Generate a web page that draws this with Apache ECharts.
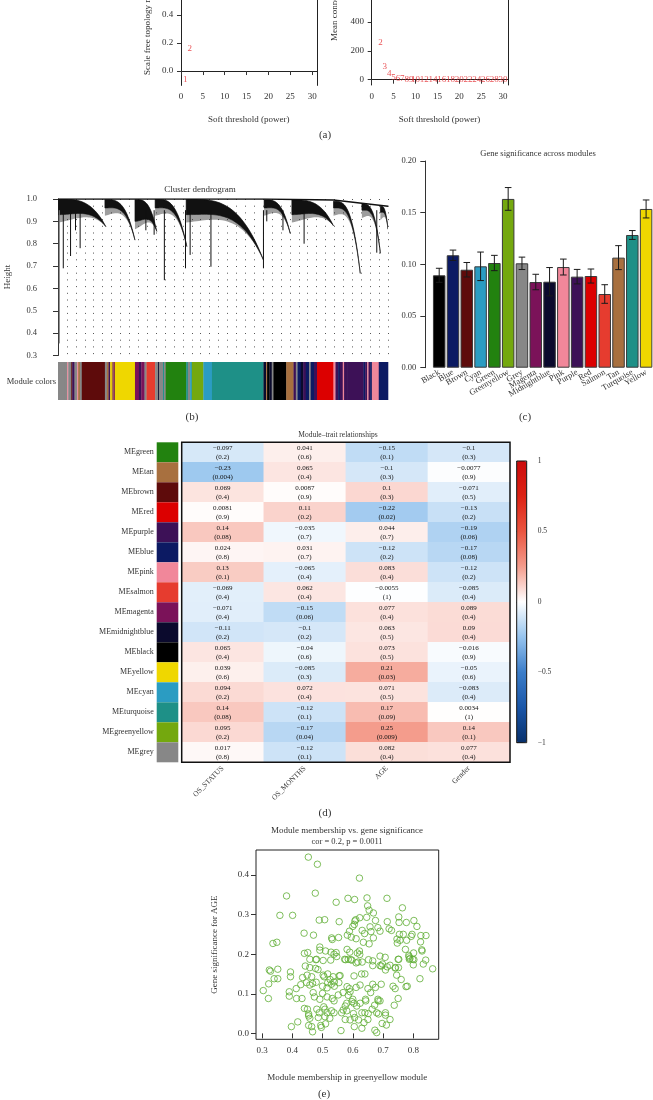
<!DOCTYPE html>
<html>
<head>
<meta charset="utf-8">
<script src="https://cdn.jsdelivr.net/npm/echarts@6/dist/echarts.min.js"></script>
<style>
  html, body { margin: 0; padding: 0; background: #fff; }
  #chart { width: 653px; height: 1100px; }
</style>
</head>
<body>
<div id="chart"></div>
<script>
// (a) soft threshold scan
const powers = [1, 2, 3, 4, 5, 6, 7, 8, 9, 10, 12, 14, 16, 18, 20, 22, 24, 26, 28, 30];
const scaleFreeFit = [-0.064, 0.157, 0.62, 0.74, 0.8, 0.83, 0.85, 0.86, 0.87, 0.87, 0.88, 0.88, 0.88, 0.89, 0.89, 0.89, 0.9, 0.9, 0.9, 0.9];
const meanConnectivity = [945, 257, 90, 40, 17, 8, 5, 3, 2, 1.5, 1, 1, 1, 1, 1, 1, 1, 1, 1, 1];
const powerTicks = [0, 5, 10, 15, 20, 25, 30];

// (b) dendrogram, leaf positions 0..999
const clusterStart = [1, 142, 233, 294, 388, 624, 708, 834, 920, 976];
const clusterEnd = [145, 233, 299, 390, 622, 703, 834, 915, 976, 999];
const clusterTop = [1.0, 0.998, 0.998, 1.0, 1.0, 0.997, 0.996, 0.99, 0.978, 0.968];
const clusterDense = [0.93, 0.96, 0.9, 0.96, 0.93, 0.96, 0.93, 0.96, 0.95, 0.94];
const clusterTip = [0.876, 0.816, 0.855, 0.787, 0.727, 0.846, 0.88, 0.667, 0.757, 0.865];
const spikeX = [4, 16, 38, 53, 67, 266, 291, 322, 386, 400, 463, 622, 632, 681, 745, 965];
const spikeH = [0.354, 0.69, 0.745, 0.86, 0.78, 0.86, 0.84, 0.637, 0.69, 0.75, 0.697, 0.69, 0.9, 0.86, 0.8, 0.76];
const topLineX = [0, 622, 624, 834, 999];
const topLineH = [1.0, 1.0, 0.997, 0.995, 0.968];
const stripEdges = [0, 21, 28, 31, 40, 43, 50, 58, 61, 66, 72, 142, 148, 153, 158, 163, 168, 172, 178, 233, 245, 252, 262, 268,
  294, 303, 306, 318, 321, 326, 388, 393, 400, 405, 440, 466, 622, 630, 633, 640, 647, 652, 691, 713, 720, 725, 735, 742,
  750, 760, 765, 775, 784, 834, 840, 848, 853, 862, 866, 875, 925, 930, 936, 940, 945, 950, 971, 999];
const stripModules = ['grey', 'grey', 'pink', 'grey', 'brown', 'purple', 'grey', 'pink', 'tan', 'grey', 'brown', 'grey', 'tan',
  'purple', 'yellow', 'tan', 'magenta', 'yellow', 'yellow', 'magenta', 'purple', 'magenta', 'grey', 'salmon',
  'grey', 'midnightblue', 'grey', 'turquoise', 'grey', 'green', 'turquoise', 'grey', 'cyan', 'greenyellow', 'cyan', 'turquoise',
  'midnightblue', 'tan', 'black', 'midnightblue', 'grey', 'black', 'tan', 'purple', 'grey', 'blue', 'midnightblue',
  'purple', 'blue', 'grey', 'blue', 'purple', 'red', 'pink', 'purple', 'blue', 'purple', 'pink', 'purple', 'purple',
  'blue', 'purple', 'pink', 'purple', 'blue', 'pink', 'blue'];

// (c) gene significance per module
const modules = ['Black', 'Blue', 'Brown', 'Cyan', 'Green', 'Greenyellow', 'Grey', 'Magenta', 'Midnightblue', 'Pink', 'Purple', 'Red', 'Salmon', 'Tan', 'Turquoise', 'Yellow'];
const gsMean = [0.0894, 0.1088, 0.0948, 0.0981, 0.1013, 0.1633, 0.101, 0.0829, 0.0832, 0.0974, 0.0881, 0.0887, 0.0713, 0.1065, 0.1284, 0.1536];
const gsErr = [0.0068, 0.005, 0.007, 0.0138, 0.0074, 0.011, 0.006, 0.0075, 0.0137, 0.0077, 0.007, 0.0068, 0.009, 0.0116, 0.0043, 0.0087];

// (d) module-trait relationships
const traits = ['OS_STATUS', 'OS_MONTHS', 'AGE', 'Gender'];
const meNames = ['MEgreen', 'MEtan', 'MEbrown', 'MEred', 'MEpurple', 'MEblue', 'MEpink', 'MEsalmon', 'MEmagenta', 'MEmidnightblue', 'MEblack', 'MEyellow', 'MEcyan', 'MEturquoise', 'MEgreenyellow', 'MEgrey'];
const corStatus = [-0.097, -0.23, 0.069, 0.0081, 0.14, 0.024, 0.13, -0.069, -0.071, -0.11, 0.065, 0.039, 0.094, 0.14, 0.095, 0.017];
const pStatus = [0.2, 0.004, 0.4, 0.9, 0.08, 0.8, 0.1, 0.4, 0.4, 0.2, 0.4, 0.6, 0.2, 0.08, 0.2, 0.8];
const corMonths = [0.041, 0.065, 0.0087, 0.11, -0.035, 0.031, -0.065, 0.062, -0.15, -0.1, -0.04, -0.085, 0.072, -0.12, -0.17, -0.12];
const pMonths = [0.6, 0.4, 0.9, 0.2, 0.7, 0.7, 0.4, 0.4, 0.06, 0.2, 0.6, 0.3, 0.4, 0.1, 0.04, 0.1];
const corAge = [-0.15, -0.1, 0.1, -0.22, 0.044, -0.12, 0.083, -0.0055, 0.077, 0.063, 0.073, 0.21, 0.071, 0.17, 0.25, 0.082];
const pAge = [0.1, 0.3, 0.3, 0.02, 0.7, 0.2, 0.4, 1, 0.4, 0.5, 0.5, 0.03, 0.5, 0.09, 0.009, 0.4];
const corGender = [-0.1, -0.0077, -0.071, -0.13, -0.19, -0.17, -0.12, -0.085, 0.089, 0.09, -0.016, -0.05, -0.083, 0.0034, 0.14, 0.077];
const pGender = [0.3, 0.9, 0.5, 0.2, 0.06, 0.08, 0.2, 0.4, 0.4, 0.4, 0.9, 0.6, 0.4, 1, 0.1, 0.4];
const keyTicks = [-1, -0.5, 0, 0.5, 1];

// (e) module membership vs gene significance (greenyellow)
const mmX = [0.453, 0.483, 0.622, 0.381, 0.476, 0.545, 0.584, 0.606, 0.647, 0.713, 0.649, 0.654, 0.668, 0.764, 0.359, 0.401,
  0.623, 0.646, 0.489, 0.507, 0.555, 0.607, 0.61, 0.675, 0.714, 0.752, 0.753, 0.777, 0.802, 0.812, 0.605, 0.6, 0.589, 0.631,
  0.639, 0.657, 0.66, 0.683, 0.69, 0.72, 0.728, 0.439, 0.47, 0.582, 0.595, 0.611, 0.668, 0.635, 0.53, 0.532, 0.553, 0.746,
  0.754, 0.767, 0.796, 0.825, 0.842, 0.756, 0.778, 0.793, 0.747, 0.824, 0.336, 0.349, 0.654, 0.44, 0.451, 0.491, 0.491, 0.51,
  0.528, 0.538, 0.545, 0.547, 0.581, 0.59, 0.615, 0.622, 0.623, 0.69, 0.707, 0.774, 0.801, 0.828, 0.829, 0.785, 0.789, 0.798,
  0.752, 0.478, 0.502, 0.576, 0.593, 0.652,
  0.458, 0.48, 0.527, 0.573, 0.585, 0.597, 0.611, 0.617, 0.631, 0.666, 0.666, 0.69, 0.698, 0.714, 0.708, 0.723, 0.75, 0.741,
  0.751, 0.786, 0.787, 0.802, 0.833, 0.324, 0.328, 0.352, 0.34, 0.352, 0.322, 0.394, 0.394, 0.443, 0.458, 0.477, 0.485, 0.449,
  0.464, 0.434, 0.447, 0.467, 0.428, 0.413, 0.458, 0.479, 0.502, 0.517, 0.505, 0.525, 0.535, 0.539, 0.555, 0.558, 0.517, 0.5,
  0.515, 0.529, 0.539, 0.554, 0.604, 0.629, 0.64, 0.624, 0.611, 0.589, 0.581, 0.65, 0.666, 0.675, 0.694, 0.694, 0.74, 0.745,
  0.76, 0.733, 0.74, 0.776, 0.78, 0.822, 0.864, 0.841, 0.8, 0.304, 0.321, 0.39, 0.39, 0.414, 0.432, 0.469, 0.473, 0.491, 0.5,
  0.515, 0.532, 0.538, 0.552, 0.568, 0.585, 0.591, 0.6, 0.597, 0.58, 0.575, 0.568, 0.563, 0.58, 0.604, 0.602, 0.613, 0.624,
  0.642, 0.643, 0.659, 0.683, 0.684, 0.685, 0.679, 0.708, 0.651, 0.606, 0.605, 0.575, 0.53, 0.538, 0.515, 0.504, 0.508, 0.481,
  0.489, 0.486, 0.508, 0.524, 0.45, 0.454, 0.454, 0.458, 0.44, 0.494, 0.51, 0.496, 0.454, 0.464, 0.467, 0.418, 0.397, 0.561,
  0.637, 0.63, 0.673, 0.679, 0.697, 0.711, 0.723, 0.708, 0.737, 0.64, 0.63, 0.65, 0.591, 0.619, 0.664, 0.672, 0.69, 0.75];
const gsY = [0.445, 0.427, 0.392, 0.347, 0.354, 0.331, 0.341, 0.338, 0.342, 0.341, 0.322, 0.311, 0.304, 0.317, 0.298, 0.298,
  0.292, 0.293, 0.286, 0.287, 0.282, 0.284, 0.287, 0.285, 0.282, 0.294, 0.28, 0.28, 0.285, 0.27, 0.275, 0.27, 0.258, 0.26,
  0.252, 0.269, 0.257, 0.267, 0.258, 0.264, 0.26, 0.253, 0.248, 0.248, 0.243, 0.239, 0.241, 0.23, 0.241, 0.237, 0.242, 0.238,
  0.25, 0.25, 0.25, 0.247, 0.247, 0.235, 0.235, 0.245, 0.228, 0.231, 0.227, 0.23, 0.226, 0.202, 0.204, 0.218, 0.21, 0.208,
  0.205, 0.2, 0.204, 0.194, 0.212, 0.205, 0.203, 0.208, 0.199, 0.195, 0.192, 0.212, 0.203, 0.211, 0.208, 0.197, 0.189, 0.187,
  0.187, 0.186, 0.184, 0.186, 0.186, 0.186,
  0.187, 0.187, 0.185, 0.187, 0.187, 0.185, 0.178, 0.18, 0.18, 0.183, 0.171, 0.171, 0.175, 0.168, 0.16, 0.172, 0.187, 0.166,
  0.166, 0.193, 0.187, 0.186, 0.175, 0.16, 0.157, 0.162, 0.138, 0.138, 0.125, 0.155, 0.143, 0.17, 0.166, 0.164, 0.161, 0.147,
  0.143, 0.141, 0.128, 0.126, 0.123, 0.113, 0.122, 0.129, 0.147, 0.15, 0.143, 0.136, 0.143, 0.13, 0.145, 0.146, 0.128, 0.119,
  0.115, 0.124, 0.119, 0.128, 0.145, 0.15, 0.15, 0.122, 0.116, 0.113, 0.118, 0.113, 0.124, 0.116, 0.124, 0.17, 0.165, 0.147,
  0.136, 0.119, 0.113, 0.118, 0.119, 0.138, 0.163, 0.185, 0.173, 0.108, 0.088, 0.105, 0.094, 0.088, 0.088, 0.103, 0.092, 0.086, 0.101,
  0.092, 0.088, 0.082, 0.097, 0.103, 0.096, 0.105, 0.086, 0.08, 0.076, 0.069, 0.059, 0.052, 0.057, 0.076, 0.05, 0.069, 0.076,
  0.086, 0.082, 0.103, 0.086, 0.082, 0.049, 0.052, 0.046, 0.05, 0.04, 0.017, 0.035, 0.057, 0.052, 0.052, 0.067, 0.061, 0.061,
  0.052, 0.04, 0.042, 0.038, 0.061, 0.049, 0.044, 0.038, 0.063, 0.02, 0.024, 0.015, 0.02, 0.017, 0.004, 0.029, 0.017, 0.007,
  0.027, 0.013, 0.008, 0.002, 0.025, 0.021, 0.035, 0.052, 0.071, 0.052, 0.052, 0.035, 0.034, 0.034, 0.061, 0.071, 0.082, 0.088];

// colours of the WGCNA modules
const moduleColor = {
  black: '#000000', blue: '#0c1a63', brown: '#5e0b0b', cyan: '#2b9cc2', green: '#22820f', greenyellow: '#74a80e',
  grey: '#878787', magenta: '#7b1259', midnightblue: '#0b0a2d', pink: '#f1879a', purple: '#3d1157', red: '#dc0000',
  salmon: '#e63c2f', tan: '#a8703f', turquoise: '#1e9087', yellow: '#efd700'
};
const serif = 'Liberation Serif';
const ink = '#333';
const fmt = v => String(v).replace('-', '\u2212');

function tickAxis(gridIndex, min, max, ticks, labelFmt, extra) {
  return Object.assign({
    gridIndex: gridIndex, type: 'value', min: min, max: max,
    axisLine: { show: false },
    axisTick: { show: true, customValues: ticks, length: 4, lineStyle: { color: ink } },
    axisLabel: { customValues: ticks, formatter: labelFmt, color: ink, fontSize: 9, fontFamily: serif, margin: 7 },
    splitLine: { show: false },
    nameLocation: 'middle',
    nameTextStyle: { color: ink, fontSize: 9, fontFamily: serif }
  }, extra || {});
}
// plain frame line for the open-topped plots of panel (a)
function frameAxis(gridIndex, min, max, position) {
  return {
    gridIndex: gridIndex, type: 'value', min: min, max: max, position: position,
    axisLine: { show: true, lineStyle: { color: '#222', width: 1 } },
    axisTick: { show: false }, axisLabel: { show: false }, splitLine: { show: false }
  };
}
const box = { show: true, borderColor: '#222', borderWidth: 1, backgroundColor: 'transparent' };
const solidLine = { show: true, lineStyle: { color: '#222', width: 1 } };

const chart = echarts.init(document.getElementById('chart'));

const option = {
  animation: false,
  textStyle: { fontFamily: serif },
  grid: [
    { left: 180.3, top: 0, width: 136.9, height: 85.4 },
    { left: 371, top: 0, width: 137.2, height: 85 },
    { left: 58, top: 199, width: 330, height: 156.5 },
    { left: 58, top: 362, width: 330, height: 38 },
    { left: 432.3, top: 161, width: 221.9, height: 206.7 },
    { left: 156.7, top: 442.3, width: 21.6, height: 320 },
    { left: 181.7, top: 442.3, width: 328.3, height: 320, show: true, borderColor: '#111', borderWidth: 1.5, backgroundColor: 'transparent', z: 5 },
    { left: 516.7, top: 461, width: 10, height: 281.7, show: true, borderColor: '#111', borderWidth: 1, backgroundColor: 'transparent', z: 5 },
    Object.assign({ left: 256, top: 850, width: 182.7, height: 189.3 }, box)
  ],
  xAxis: [
    tickAxis(0, -0.16, 31.16, powerTicks, null, { name: 'Soft threshold (power)', nameGap: 30, axisLine: solidLine }),
    tickAxis(1, -0.16, 31.16, powerTicks, null, { name: 'Soft threshold (power)', nameGap: 30, axisLine: solidLine }),
    {
      gridIndex: 2, type: 'value', min: 0, max: 999, interval: 27,
      axisLine: { show: false }, axisTick: { show: false }, axisLabel: { show: false },
      splitLine: { show: true, lineStyle: { type: [1, 5.7], color: '#555', width: 1 } }
    },
    { gridIndex: 3, type: 'value', min: 0, max: 999, show: false },
    {
      gridIndex: 4, type: 'category', data: modules,
      axisLine: { show: false }, axisTick: { show: false },
      axisLabel: { interval: 0, rotate: 30, fontSize: 8.5, color: ink, fontFamily: serif, margin: 4 }
    },
    { gridIndex: 5, type: 'category', data: ['c'], show: false },
    {
      gridIndex: 6, type: 'category', data: traits,
      axisLine: { show: false }, axisTick: { show: false },
      axisLabel: { interval: 0, rotate: 45, fontSize: 7.5, color: ink, fontFamily: serif, margin: 5 }
    },
    { gridIndex: 7, type: 'value', min: 0, max: 1, show: false },
    tickAxis(8, 0.28, 0.884, [0.3, 0.4, 0.5, 0.6, 0.7, 0.8], v => v.toFixed(1),
      { name: 'Module membership in greenyellow module', nameGap: 34, axisTick: { show: true, customValues: [0.3, 0.4, 0.5, 0.6, 0.7, 0.8], length: 5, lineStyle: { color: ink } } })
  ],
  yAxis: [
    tickAxis(0, -0.1026, 0.5074, [0, 0.2, 0.4], v => v.toFixed(1), { axisLine: solidLine }),
    tickAxis(1, -36.8, 553.5, [0, 200, 400], null, { axisLine: solidLine }),
    {
      gridIndex: 2, type: 'value', min: 0.3, max: 1.0, offset: 13,
      axisLine: { show: true, lineStyle: { color: ink, width: 1 } },
      axisTick: { show: true, customValues: [0.3, 0.4, 0.5, 0.6, 0.7, 0.8, 0.9, 1.0], length: 5, lineStyle: { color: ink } },
      axisLabel: { customValues: [0.3, 0.4, 0.5, 0.6, 0.7, 0.8, 0.9, 1.0], formatter: v => v.toFixed(1), color: ink, fontSize: 8.5, fontFamily: serif, margin: 8 },
      splitLine: { show: false }
    },
    { gridIndex: 3, type: 'value', min: 0, max: 1, show: false },
    {
      gridIndex: 4, type: 'value', min: 0, max: 0.2, interval: 0.05, offset: 7,
      axisLine: { show: true, lineStyle: { color: ink, width: 1 } },
      axisTick: { show: true, length: 5, lineStyle: { color: ink } },
      axisLabel: { formatter: v => v.toFixed(2), color: ink, fontSize: 8.5, fontFamily: serif, margin: 9 },
      splitLine: { show: false }
    },
    {
      gridIndex: 5, type: 'category', data: meNames, inverse: true,
      axisLine: { show: false }, axisTick: { show: false },
      axisLabel: { interval: 0, fontSize: 8, color: ink, fontFamily: serif, margin: 3 }
    },
    { gridIndex: 6, type: 'category', data: meNames, inverse: true, show: false },
    tickAxis(7, -1, 1, keyTicks, v => fmt(v), {
      position: 'right',
      axisTick: { show: true, customValues: keyTicks, length: 6, lineStyle: { color: ink } },
      axisLabel: { customValues: keyTicks, formatter: v => fmt(v), color: ink, fontSize: 7.5, fontFamily: serif, margin: 11 }
    }),
    tickAxis(8, -0.015, 0.463, [0, 0.1, 0.2, 0.3, 0.4], v => v.toFixed(1),
      { name: 'Gene significance for AGE', nameGap: 37, axisTick: { show: true, customValues: [0, 0.1, 0.2, 0.3, 0.4], length: 5, lineStyle: { color: ink } } }),
    frameAxis(0, -0.1026, 0.5074, 'right'),
    frameAxis(1, -36.8, 553.5, 'right')
  ],
  visualMap: {
    type: 'continuous', seriesIndex: 9, dimension: 2, min: -1, max: 1,
    left: 516.7, top: 461, itemWidth: 10, itemHeight: 281.7, padding: 0,
    calculable: false, text: null, hoverLink: false,
    inRange: { color: ['#08306b', '#1a56a8', '#3b7dc9', '#96c4ee', '#ffffff', '#f49c8c', '#ea5540', '#dc2214', '#cc0c0c'] }
  },
  series: [
    {
      type: 'scatter', xAxisIndex: 0, yAxisIndex: 0, symbolSize: 1, clip: true,
      itemStyle: { color: 'rgba(0,0,0,0)' },
      data: powers.map((p, i) => [p, scaleFreeFit[i]]),
      label: { show: true, position: 'inside', formatter: p => p.value[0], color: '#e4262b', fontSize: 9, fontFamily: serif }
    },
    {
      type: 'scatter', xAxisIndex: 1, yAxisIndex: 1, symbolSize: 1, clip: true,
      itemStyle: { color: 'rgba(0,0,0,0)' },
      data: powers.map((p, i) => [p, meanConnectivity[i]]),
      label: { show: true, position: 'inside', formatter: p => p.value[0], color: '#e4262b', fontSize: 9, fontFamily: serif }
    },
    {
      // dendrogram branches: dense wedge plus a grey fringe of short leaves
      type: 'custom', xAxisIndex: 2, yAxisIndex: 2, clip: true,
      data: clusterStart.map((s, i) => [s, clusterEnd[i], clusterTop[i], clusterDense[i], clusterTip[i]]),
      encode: { x: [0, 1], y: [2, 4] },
      renderItem: function (params, api) {
        const s = api.value(0), e = api.value(1), top = api.value(2), dense = api.value(3), tip = api.value(4);
        const upper = [], lower = [], fringe = [];
        for (let k = 0; k <= 30; k++) {
          const t = k / 30;
          const x = s + (e - s) * t;
          const hUp = top - (top - tip) * Math.pow(t, 3.3);
          const hLo = hUp - (top - dense) * (1 - t * t);
          const hFr = hLo - 0.035 * (1 - t);
          upper.push(api.coord([x, hUp]));
          lower.unshift(api.coord([x, hLo]));
          fringe.unshift(api.coord([x, hFr]));
        }
        return {
          type: 'group', children: [
            { type: 'polygon', shape: { points: upper.concat(fringe) }, style: { fill: 'rgba(40,40,40,0.45)' } },
            { type: 'polygon', shape: { points: upper.concat(lower) }, style: { fill: '#111', stroke: '#111', lineWidth: 0.6 } }
          ]
        };
      }
    },
    {
      type: 'custom', xAxisIndex: 2, yAxisIndex: 2,
      data: spikeX.map((x, i) => [x, spikeH[i]]),
      encode: { x: 0, y: 1 },
      renderItem: function (params, api) {
        const a = api.coord([api.value(0), 0.95]), b = api.coord([api.value(0), api.value(1)]);
        return { type: 'line', shape: { x1: a[0], y1: a[1], x2: b[0], y2: b[1] }, style: { stroke: params.dataIndex === 0 ? '#777' : '#111', lineWidth: 1 } };
      }
    },
    {
      type: 'line', xAxisIndex: 2, yAxisIndex: 2, symbol: 'none',
      data: topLineX.map((x, i) => [x, topLineH[i]]),
      lineStyle: { color: '#111', width: 1.5 }
    },
    {
      type: 'custom', xAxisIndex: 3, yAxisIndex: 3,
      data: stripModules.map((m, i) => [stripEdges[i], stripEdges[i + 1]]),
      encode: { x: [0, 1] },
      renderItem: function (params, api) {
        const a = api.coord([api.value(0), 1]), b = api.coord([api.value(1), 0]);
        return { type: 'rect', shape: { x: a[0], y: a[1], width: b[0] - a[0] + 0.3, height: b[1] - a[1] }, style: { fill: moduleColor[stripModules[params.dataIndex]] } };
      }
    },
    {
      type: 'bar', xAxisIndex: 4, yAxisIndex: 4, barWidth: 12.5,
      data: gsMean.map((v, i) => ({ value: v, itemStyle: { color: moduleColor[modules[i].toLowerCase()] } })),
      itemStyle: { borderColor: '#3a3a3a', borderWidth: 1 }
    },
    {
      type: 'custom', xAxisIndex: 4, yAxisIndex: 4, z: 5,
      data: gsMean.map((v, i) => [i, v + gsErr[i], v - gsErr[i]]),
      encode: { x: 0, y: [1, 2] },
      renderItem: function (params, api) {
        const hi = api.coord([api.value(0), api.value(1)]), lo = api.coord([api.value(0), api.value(2)]);
        const w = 3.3, st = { stroke: '#1a1a1a', lineWidth: 1 };
        return {
          type: 'group', children: [
            { type: 'line', shape: { x1: hi[0], y1: hi[1], x2: lo[0], y2: lo[1] }, style: st },
            { type: 'line', shape: { x1: hi[0] - w, y1: hi[1], x2: hi[0] + w, y2: hi[1] }, style: st },
            { type: 'line', shape: { x1: lo[0] - w, y1: lo[1], x2: lo[0] + w, y2: lo[1] }, style: st }
          ]
        };
      }
    },
    {
      type: 'custom', xAxisIndex: 5, yAxisIndex: 5,
      data: meNames.map((n, i) => [0, i]),
      encode: { x: 0, y: 1 },
      renderItem: function (params, api) {
        const c = api.coord([0, api.value(1)]), sz = api.size([1, 1]);
        return { type: 'rect', shape: { x: c[0] - sz[0] / 2, y: c[1] - sz[1] / 2, width: sz[0], height: sz[1] }, style: { fill: moduleColor[meNames[params.dataIndex].slice(2)] } };
      }
    },
    {
      type: 'heatmap', xAxisIndex: 6, yAxisIndex: 6,
      data: meNames.flatMap((n, r) => [
        [0, r, corStatus[r], pStatus[r]],
        [1, r, corMonths[r], pMonths[r]],
        [2, r, corAge[r], pAge[r]],
        [3, r, corGender[r], pGender[r]]
      ]),
      label: {
        show: true, fontSize: 7, lineHeight: 9, color: '#111', fontFamily: serif,
        formatter: p => fmt(p.data[2]) + '\n(' + p.data[3] + ')'
      },
      emphasis: { disabled: true }
    },
    {
      type: 'scatter', xAxisIndex: 8, yAxisIndex: 8, symbol: 'circle', symbolSize: 6.5,
      data: mmX.map((x, i) => [x, gsY[i]]),
      itemStyle: { color: 'rgba(0,0,0,0)', borderColor: '#5fae35', borderWidth: 1 }
    }
  ],
  graphic: [
    { type: 'text', x: 148, y: 75, rotation: Math.PI / 2, style: { text: 'Scale free topology model fit, signed R\u00b2', font: '9px "Liberation Serif"', fill: ink, align: 'left', verticalAlign: 'middle' } },
    { type: 'text', x: 335, y: 41, rotation: Math.PI / 2, style: { text: 'Mean connectivity', font: '9px "Liberation Serif"', fill: ink, align: 'left', verticalAlign: 'middle' } },
    { type: 'text', x: 325, y: 135, style: { text: '(a)', font: '11px "Liberation Serif"', fill: ink, align: 'center', verticalAlign: 'middle' } },
    { type: 'text', x: 200, y: 190, style: { text: 'Cluster dendrogram', font: '9px "Liberation Serif"', fill: ink, align: 'center', verticalAlign: 'middle' } },
    { type: 'text', x: 8, y: 277, rotation: Math.PI / 2, style: { text: 'Height', font: '9px "Liberation Serif"', fill: ink, align: 'center', verticalAlign: 'middle' } },
    { type: 'text', x: 56, y: 382, style: { text: 'Module colors', font: '8.5px "Liberation Serif"', fill: ink, align: 'right', verticalAlign: 'middle' } },
    { type: 'text', x: 192, y: 417, style: { text: '(b)', font: '11px "Liberation Serif"', fill: ink, align: 'center', verticalAlign: 'middle' } },
    { type: 'text', x: 538, y: 154, style: { text: 'Gene significance across modules', font: '8.5px "Liberation Serif"', fill: ink, align: 'center', verticalAlign: 'middle' } },
    { type: 'text', x: 525, y: 417, style: { text: '(c)', font: '11px "Liberation Serif"', fill: ink, align: 'center', verticalAlign: 'middle' } },
    { type: 'text', x: 338, y: 435, style: { text: 'Module\u2013trait relationships', font: '7.5px "Liberation Serif"', fill: ink, align: 'center', verticalAlign: 'middle' } },
    { type: 'text', x: 325, y: 813, style: { text: '(d)', font: '11px "Liberation Serif"', fill: ink, align: 'center', verticalAlign: 'middle' } },
    { type: 'text', x: 347, y: 831, style: { text: 'Module membership vs. gene significance', font: '9px "Liberation Serif"', fill: ink, align: 'center', verticalAlign: 'middle' } },
    { type: 'text', x: 347, y: 841.5, style: { text: 'cor = 0.2, p = 0.0011', font: '8.5px "Liberation Serif"', fill: ink, align: 'center', verticalAlign: 'middle' } },
    { type: 'text', x: 324, y: 1094, style: { text: '(e)', font: '11px "Liberation Serif"', fill: ink, align: 'center', verticalAlign: 'middle' } }
  ]
};

chart.setOption(option);
</script>
</body>
</html>
